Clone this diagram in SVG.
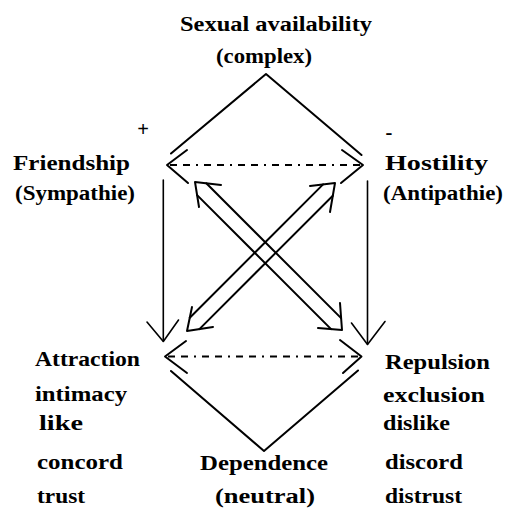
<svg xmlns="http://www.w3.org/2000/svg" width="512" height="508" viewBox="0 0 512 508">
<style>
.t{font-family:"Liberation Serif","Times New Roman",serif;font-weight:bold;font-size:20.5px;fill:#000}
.ln{stroke:#000;stroke-width:2;fill:none;stroke-linecap:round;stroke-linejoin:round}
.thin{stroke:#000;stroke-width:1.6;fill:none;stroke-linecap:round;stroke-linejoin:round}
.dash{stroke:#000;stroke-width:2;fill:none;stroke-dasharray:7 6 7 6 2 6}
</style>
<rect width="512" height="508" fill="#fff"/>
<g id="sexual">
<text class="t" x="180" y="30.5" textLength="192" lengthAdjust="spacingAndGlyphs">Sexual availability</text>
<text class="t" x="216" y="63" textLength="96" lengthAdjust="spacingAndGlyphs">(complex)</text>
</g>
<g id="plus"><text class="t" x="143" y="136" text-anchor="middle" font-size="17">+</text></g>
<g id="minus"><text class="t" x="389" y="139" text-anchor="middle" font-size="24">-</text></g>
<g id="friendship">
<text class="t" x="13" y="170" textLength="117" lengthAdjust="spacingAndGlyphs">Friendship</text>
<text class="t" x="15" y="200" textLength="120" lengthAdjust="spacingAndGlyphs">(Sympathie)</text>
</g>
<g id="hostility">
<text class="t" x="385" y="170" textLength="103" lengthAdjust="spacingAndGlyphs">Hostility</text>
<text class="t" x="383" y="200" textLength="120" lengthAdjust="spacingAndGlyphs">(Antipathie)</text>
</g>
<g id="attraction">
<text class="t" x="35" y="366" textLength="105" lengthAdjust="spacingAndGlyphs">Attraction</text>
<text class="t" x="35" y="401" textLength="92" lengthAdjust="spacingAndGlyphs">intimacy</text>
<text class="t" x="39" y="430" textLength="44" lengthAdjust="spacingAndGlyphs">like</text>
<text class="t" x="37" y="469" textLength="86" lengthAdjust="spacingAndGlyphs">concord</text>
<text class="t" x="37" y="503" textLength="48" lengthAdjust="spacingAndGlyphs">trust</text>
</g>
<g id="repulsion">
<text class="t" x="385" y="369" textLength="105" lengthAdjust="spacingAndGlyphs">Repulsion</text>
<text class="t" x="383" y="402" textLength="102" lengthAdjust="spacingAndGlyphs">exclusion</text>
<text class="t" x="383" y="430" textLength="67" lengthAdjust="spacingAndGlyphs">dislike</text>
<text class="t" x="385" y="469" textLength="78" lengthAdjust="spacingAndGlyphs">discord</text>
<text class="t" x="385" y="503" textLength="77" lengthAdjust="spacingAndGlyphs">distrust</text>
</g>
<g id="dependence">
<text class="t" x="200" y="470" textLength="128" lengthAdjust="spacingAndGlyphs">Dependence</text>
<text class="t" x="215" y="503" textLength="100" lengthAdjust="spacingAndGlyphs">(neutral)</text>
</g>
<g id="connectors">
<polyline class="ln" points="171,153.5 266,74 361.5,155"/>
<line class="dash" x1="170" y1="165" x2="360" y2="165"/>
<polyline class="ln" points="187,150 167,165 188,183"/>
<polyline class="ln" points="342,150 363,165 341,183"/>
<polyline class="ln" points="171,371 264,451 358,370.5"/>
<line class="dash" x1="168" y1="356.5" x2="359" y2="356.5"/>
<polyline class="ln" points="186,341 165,356.5 187,373"/>
<polyline class="ln" points="340,340 361.5,356.5 343,373"/>
<line class="thin" x1="163.3" y1="180" x2="163.3" y2="341"/>
<polyline class="thin" points="147,322 163.3,341.5 178.5,320"/>
<line class="thin" x1="367.5" y1="181" x2="367.5" y2="344"/>
<polyline class="thin" points="351.5,323 367.5,344.5 385,321.5"/>
<polyline class="ln" points="221,185 195,182 199,207"/>
<polyline class="ln" points="340,303 342,330 318,328"/>
<line class="ln" x1="206.3" y1="183.3" x2="341.1" y2="318.1"/>
<line class="ln" x1="197.1" y1="195.1" x2="331.1" y2="329.1"/>
<polyline class="ln" points="310,186 335,183 330,212"/>
<polyline class="ln" points="192,307 187,331 213,327"/>
<line class="ln" x1="323.1" y1="184.4" x2="189.8" y2="317.7"/>
<line class="ln" x1="332.8" y1="195.7" x2="199.4" y2="329.1"/>
</g>
</svg>
